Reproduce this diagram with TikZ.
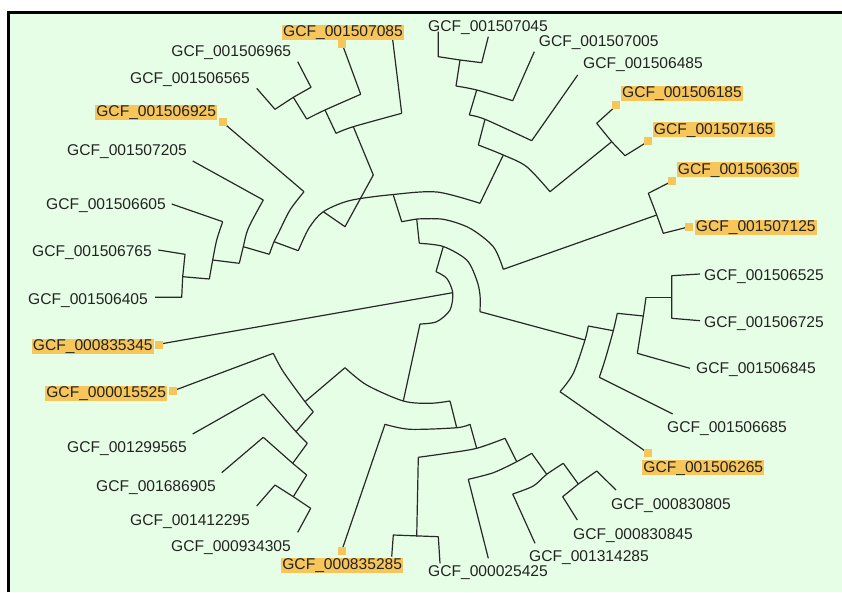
\documentclass[tikz,border=0pt]{standalone}
\usepackage{fontspec}
\setmainfont{Liberation Sans}
\definecolor{bg}{RGB}{230,254,230}
\definecolor{hl}{RGB}{247,198,90}
\definecolor{ln}{RGB}{40,40,40}
\definecolor{tx}{RGB}{35,35,35}
\begin{document}
\begin{tikzpicture}[x=1pt,y=-1pt,
  br/.style={draw=ln,line width=1.2pt,line join=round},
  lab/.style={inner sep=0pt,text=tx,font=\fontsize{15.6}{16}\selectfont,text height=11.3pt,text depth=2.7pt},
  hlab/.style={lab,fill=hl,minimum width=122pt,minimum height=15pt},
  mk/.style={fill=hl,inner sep=0pt,minimum size=8pt}]
\useasboundingbox (0,0) rectangle (842,592);
\fill[white] (0,0) rectangle (842,592);
\fill[bg] (9,13) rectangle (842,592);
\draw[black,line width=3pt] (8.5,592) -- (8.5,12.5) -- (842,12.5);

% ---- root region
\draw[br] plot[smooth] coordinates {(436,271.7) (446.7,278.3) (452.7,292.7) (450,310) (436.7,321.7) (420,324)};
\draw[br] (452.7,292.7) -- (163,343.5);
\draw[br] (436,271.7) -- (443.3,246.5);
\draw[br] plot[smooth] coordinates {(419.3,243.3) (443.3,246.5) (466.7,260) (476.7,280) (480,295) (480,311.7)};
\draw[br] (419.3,243.3) -- (416.7,219);
\draw[br] plot[smooth] coordinates {(416.7,219) (443.3,219.3) (470,228.3) (493.3,246.7) (503.3,269.3)};
\draw[br] (416.7,219) -- (401.7,221.7) -- (393.3,195);
\draw[br] (503.3,269.3) -- (656.7,215);
\draw[br] (480,311.7) -- (585,340);
\draw[br] (420,324) -- (403.3,401);

% ---- big upper arc
\draw[br] plot[smooth] coordinates {(298.3,250.7) (309,228) (323.3,211.7) (350,200.5) (393.3,194.5) (437,192) (480,203.3)};
\draw[br] (298.3,250.7) -- (274,241.7);
\draw[br] (323.3,211.7) -- (345,226.7) -- (373.3,175) -- (353.3,126.7);
\draw[br] (480,203.3) -- (503.3,155);

% ---- left group
\draw[br] plot[smooth] coordinates {(304,191.7) (290,210) (278.3,233.3) (274,241.7) (269.3,254.3)};
\draw[br] (222.7,122.3) -- (304,191.7);
\draw[br] (269.3,254.3) -- (243.3,246.7);
\draw[br] plot[smooth] coordinates {(263.3,200) (248.3,228.3) (243.3,246.7) (239.3,263.3)};
\draw[br] (192.7,161) -- (263.3,200);
\draw[br] (239.3,263.3) -- (212.7,260);
\draw[br] plot[smooth] coordinates {(222.7,221.7) (216.7,240) (212.7,260) (209.3,279)};
\draw[br] (171.7,204) -- (222.7,221.7);
\draw[br] (209.3,279) -- (182.7,276.7);
\draw[br] (158.3,250) -- (185,254.3) -- (182.7,276.7) -- (181.7,297.3) -- (155,297.3);

% ---- top-left group
\draw[br] plot[smooth] coordinates {(336,133.3) (353.3,126.7) (401.7,113.3)};
\draw[br] (391.7,31.7) -- (401.7,113.3);
\draw[br] (336,133.3) -- (325,110);
\draw[br] plot[smooth] coordinates {(306.7,119) (325,110) (360.7,94.3)};
\draw[br] (343.3,47) -- (360.7,94.3);
\draw[br] (306.7,119) -- (293.3,97.3);
\draw[br] (256.7,88.3) -- (275,109.3) -- (293.3,97.3) -- (311,87.3) -- (297.7,61.7);

% ---- top-right group
\draw[br] plot[smooth] coordinates {(478.3,145) (503.3,155) (526.7,166.7) (550,191.7)};
\draw[br] (478.3,145) -- (485,119.3);
\draw[br] plot[smooth] coordinates {(469.3,115) (485,119.3) (531.7,140.7)};
\draw[br] (531.7,140.7) -- (577.7,75);
\draw[br] (469.3,115) -- (476.7,90);
\draw[br] plot[smooth] coordinates {(456,86) (476.7,90) (512.7,100.7)};
\draw[br] (512.7,100.7) -- (534.3,51.7);
\draw[br] (456,86) -- (460,60);
\draw[br] (438.3,31.7) -- (438.3,56.7) -- (460,60) -- (481.7,62.7) -- (488.3,36.7);
\draw[br] (550,191.7) -- (611.7,141.7);
\draw[br] (613.3,108.3) -- (596.7,123.3) -- (611.7,141.7) -- (625,155.7) -- (645,143.3);

% ---- 507125 clade
\draw[br] (672.3,181) -- (648.3,193.3) -- (656.7,215) -- (663.3,233.3) -- (689.3,226.7);

% ---- right clade
\draw[br] plot[smooth] coordinates {(588.3,326) (585,340) (573.3,373.3) (560,391.7)};
\draw[br] (560,391.7) -- (648,453);
\draw[br] (588.3,326) -- (613.3,330.7);
\draw[br] plot[smooth] coordinates {(617.3,313.3) (613.3,330.7) (605,360) (599.3,377.3)};
\draw[br] (599.3,377.3) -- (672.7,414);
\draw[br] (617.3,313.3) -- (643.3,316);
\draw[br] plot[smooth] coordinates {(646,297.3) (643.3,316) (637.3,353.3)};
\draw[br] (637.3,353.3) -- (690,368.3);
\draw[br] (646,297.3) -- (671.7,297.3);
\draw[br] (700,274) -- (671.7,275.7) -- (671.7,318.3) -- (700,320.7);

% ---- bottom-left group
\draw[br] (172.7,391) -- (273.3,353.3);
\draw[br] plot[smooth] coordinates {(273.3,353.3) (283.3,371.7) (305,401.7) (313.3,411.7)};
\draw[br] (305,401.7) -- (345,367.7);
\draw[br] (313.3,411.7) -- (296,431.7);
\draw[br] (192.7,434) -- (263.3,394);
\draw[br] plot[smooth] coordinates {(263.3,394) (280,413.3) (296,431.7) (307.3,443.3)};
\draw[br] (307.3,443.3) -- (292.7,463.3);
\draw[br] (221.7,472.7) -- (263.3,437.3);
\draw[br] plot[smooth] coordinates {(263.3,437.3) (283.3,455) (292.7,463.3) (306.7,475)};
\draw[br] (306.7,475) -- (293.3,496.7);
\draw[br] (256.7,506) -- (275,485) -- (293.3,496.7) -- (310.7,508.3) -- (297.7,532.3);

% ---- bottom group
\draw[br] plot[smooth] coordinates {(345,367.7) (366.7,385) (403.3,401) (430,403.3) (450,401)};
\draw[br] (450,401) -- (456.7,427.7);
\draw[br] plot[smooth] coordinates {(385,424.3) (410,429.3) (456.7,427.7) (470,424.3)};
\draw[br] (385,424.3) -- (343,547);
\draw[br] (470,424.3) -- (476.7,448.3);
\draw[br] plot[smooth] coordinates {(418.3,457.3) (446.7,453.3) (476.7,448.3) (505,438.3)};
\draw[br] (418.3,457.3) -- (416.7,536.7);
\draw[br] (391.7,556.7) -- (393.3,535) -- (438.3,536.7) -- (440,563.3);
\draw[br] (505,438.3) -- (516.7,461.7);
\draw[br] plot[smooth] coordinates {(468.3,479.3) (493.3,472.7) (516.7,461.7) (531.7,453.3)};
\draw[br] (468.3,479.3) -- (488.3,558.3);
\draw[br] (531.7,453.3) -- (546.7,474.3);
\draw[br] plot[smooth] coordinates {(512.7,494) (533.3,486) (546.7,474.3) (563.3,463.3)};
\draw[br] (512.7,494) -- (535,543.3);
\draw[br] (563.3,463.3) -- (578.3,484);
\draw[br] (577.3,520) -- (562.7,496.7) -- (578.3,484) -- (596.7,471) -- (616,490);

% ---- markers
\node[mk] (m507085) at (342.3,44) {};
\node[mk] (m506925) at (222.7,122.3) {};
\node[mk] (m835345) at (159,345) {};
\node[mk] (m015525) at (172.7,391) {};
\node[mk] (m835285) at (342.3,551) {};
\node[mk] (m506265) at (648.3,453.3) {};
\node[mk] (m507125) at (689.3,226.7) {};
\node[mk] (m506305) at (672.3,181) {};
\node[mk] (m507165) at (647.7,141) {};
\node[mk] (m506185) at (616,105) {};

% ---- highlighted labels
\node[hlab] (l507085) at (343,32.5) {GCF\_001507085};
\node[hlab] (l506925) at (156.2,112.5) {GCF\_001506925};
\node[hlab] (l835345) at (92.8,346.3) {GCF\_000835345};
\node[hlab] (l015525) at (106.2,393) {GCF\_000015525};
\node[hlab] (l835285) at (342.2,565) {GCF\_000835285};
\node[hlab] (l506265) at (703.3,467.8) {GCF\_001506265};
\node[hlab] (l507125) at (755.8,227.5) {GCF\_001507125};
\node[hlab] (l506305) at (737.8,169.8) {GCF\_001506305};
\node[hlab] (l507165) at (713.8,129.8) {GCF\_001507165};
\node[hlab] (l506185) at (682,93.5) {GCF\_001506185};

% ---- plain labels
\node[lab] (l506965) at (231.3,52.5) {GCF\_001506965};
\node[lab] (l506565) at (190,79) {GCF\_001506565};
\node[lab] (l507205) at (127,151) {GCF\_001507205};
\node[lab] (l506605) at (106,205.5) {GCF\_001506605};
\node[lab] (l506765) at (92,252.5) {GCF\_001506765};
\node[lab] (l506405) at (88,300) {GCF\_001506405};
\node[lab] (l299565) at (127,448.5) {GCF\_001299565};
\node[lab] (l686905) at (156,487) {GCF\_001686905};
\node[lab] (l412295) at (190,521.5) {GCF\_001412295};
\node[lab] (l934305) at (231,547.5) {GCF\_000934305};
\node[lab] (l025425) at (488,572.5) {GCF\_000025425};
\node[lab] (l314285) at (589,557) {GCF\_001314285};
\node[lab] (l830845) at (633,535) {GCF\_000830845};
\node[lab] (l830805) at (671,505) {GCF\_000830805};
\node[lab] (l506685) at (727,428.5) {GCF\_001506685};
\node[lab] (l506845) at (756,369.5) {GCF\_001506845};
\node[lab] (l506725) at (764,323.5) {GCF\_001506725};
\node[lab] (l506525) at (764,276) {GCF\_001506525};
\node[lab] (l506485) at (643,64) {GCF\_001506485};
\node[lab] (l507005) at (598.7,42) {GCF\_001507005};
\node[lab] (l507045) at (488,27) {GCF\_001507045};
\end{tikzpicture}
\end{document}
